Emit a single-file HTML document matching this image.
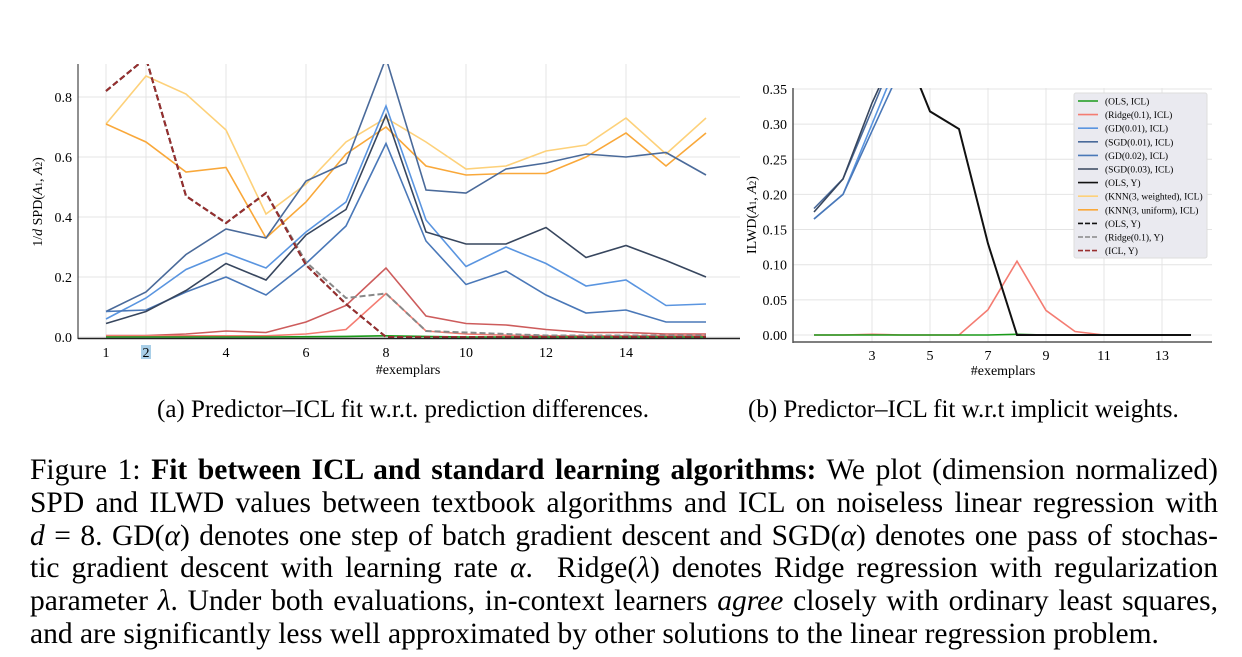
<!DOCTYPE html>
<html><head><meta charset="utf-8">
<style>
body{margin:0;background:#fff;width:1242px;height:657px;overflow:hidden;font-family:"Liberation Serif",serif;}
#cap{position:absolute;left:30px;top:454px;width:1188px;font-size:29.5px;line-height:32.8px;color:#000;}
#cap div{text-align:justify;text-align-last:justify;white-space:nowrap;}
#cap div.last{text-align-last:left;}
.sub{position:absolute;font-size:25px;top:396px;white-space:nowrap;}
</style></head><body>
<svg id="chart" width="1242" height="440" style="position:absolute;left:0;top:0" font-family="Liberation Serif, serif">
<defs>
<clipPath id="cl"><rect x="78" y="64" width="662" height="276"/></clipPath>
<clipPath id="cr"><rect x="793" y="88" width="420" height="256"/></clipPath>
</defs>
<g id="left"></g>
<g id="right"></g>
</svg>
<div class="sub" style="left:157px">(a) Predictor–ICL fit w.r.t. prediction differences.</div>
<div class="sub" style="left:748px">(b) Predictor–ICL fit w.r.t implicit weights.</div>
<div id="cap">
<div>Figure 1: <b>Fit between ICL and standard learning algorithms:</b> We plot (dimension normalized)</div>
<div>SPD and ILWD values between textbook algorithms and ICL on noiseless linear regression with</div>
<div><i>d</i> = 8. GD(<i>α</i>) denotes one step of batch gradient descent and SGD(<i>α</i>) denotes one pass of stochas-</div>
<div>tic gradient descent with learning rate <i>α</i>. &nbsp;Ridge(<i>λ</i>) denotes Ridge regression with regularization</div>
<div>parameter <i>λ</i>. Under both evaluations, in-context learners <i>agree</i> closely with ordinary least squares,</div>
<div class="last">and are significantly less well approximated by other solutions to the linear regression problem.</div>
</div>
<script>
const NS="http://www.w3.org/2000/svg";
// left chart data (x = 1..16)
const leftX=[1,2,3,4,5,6,7,8,9,10,11,12,13,14,15,16];
const leftXTicks=[1,2,4,6,8,10,12,14];
const leftYTicks=[0.0,0.2,0.4,0.6,0.8];
const lKnnW=[.71,.87,.81,.69,.41,.51,.65,.73,.65,.56,.57,.62,.64,.73,.61,.73];
const lKnnU=[.71,.65,.55,.565,.33,.45,.61,.70,.57,.54,.545,.545,.60,.68,.57,.68];
const lSgd001=[.085,.15,.275,.36,.33,.52,.58,.93,.49,.48,.56,.58,.61,.60,.615,.54];
const lGd001=[.06,.13,.225,.28,.23,.35,.45,.77,.39,.235,.30,.245,.17,.19,.105,.11];
const lGd002=[.085,.09,.15,.20,.14,.245,.37,.645,.32,.175,.22,.14,.08,.09,.05,.05];
const lSgd003=[.045,.085,.155,.245,.19,.34,.425,.74,.35,.31,.31,.365,.265,.305,.255,.20];
const lRed=[.005,.005,.01,.02,.015,.05,.105,.23,.07,.045,.04,.025,.015,.015,.01,.01];
const lRidge=[.004,.004,.004,.004,.004,.01,.025,.145,.02,.01,.006,.004,.004,.004,.004,.004];
const lOls=[0,0,0,0,0,.001,.002,.004,.002,0,0,0,0,0,0,0];
const lOlsY=[.82,.93,.47,.38,.48,.24,.11,0,0,0,0,0,0,0,0,0];
const lRidgeY=[.82,.93,.47,.38,.48,.25,.13,.145,.02,.015,.01,.005,.005,.005,.005,.005];
const lIclY=[.82,.93,.47,.38,.48,.24,.11,0,0,0,0,0,0,0,0,0];
// right chart data (x = 1..14)
const rightX=[1,2,3,4,5,6,7,8,9,10,11,12,13,14];
const rightXTicks=[3,5,7,9,11,13];
const rightYTicks=[0,0.05,0.10,0.15,0.20,0.25,0.30,0.35];
const rGd001=[.165,.20,.30,.40,.5,.6,.7,.8,.9,1,1,1,1,1];
const rSgd001=[.18,.222,.32,.42,.5,.6,.7,.8,.9,1,1,1,1,1];
const rGd002=[.165,.20,.29,.38,.5,.6,.7,.8,.9,1,1,1,1,1];
const rSgd003=[.175,.222,.33,.42,.5,.6,.7,.8,.9,1,1,1,1,1];
const rOlsY=[1.0,.8,.6,.42,.318,.293,.13,0,0,0,0,0,0,0];
const rRidge=[0,0,.001,0,0,0,.036,.105,.035,.005,0,0,0,0];
const rOls=[0,0,0,0,0,0,0,.001,0,0,0,0,0,0];

function el(tag,attrs,parent){const e=document.createElementNS(NS,tag);for(const k in attrs)e.setAttribute(k,attrs[k]);parent.appendChild(e);return e;}
const lx=v=>106+(v-1)*40, ly=v=>337-v*300;
const rx=v=>814+(v-1)*29, ry=v=>335-v*703;

function drawAxes(g,xs,ys,xf,yf,x0,x1,y0,y1){
  for(const t of ys){const l=el('line',{x1:x0,x2:x1,y1:yf(t),y2:yf(t),stroke:'#e4e4e4','stroke-width':1},g);
    }
  for(const t of xs){const l=el('line',{x1:xf(t),x2:xf(t),y1:y0,y2:y1,stroke:'#e4e4e4','stroke-width':1},g);
    }
}
function series(g,xs,vals,xf,yf,color,dash,w,clip,name){
  const d=vals.map((v,i)=>(i?'L':'M')+xf(xs[i]).toFixed(1)+','+yf(v).toFixed(1)).join('');
  const p=el('path',{d:d,fill:'none',stroke:color,'stroke-width':w||1.6,'clip-path':'url(#'+clip+')'},g);
  if(dash)p.setAttribute('stroke-dasharray',dash);
  
  
}
const L=document.getElementById('left');
drawAxes(L,leftXTicks,leftYTicks,lx,ly,78,740,64,338);
[[lKnnW,'#fdd17a',null,'series-knn-weighted'],[lKnnU,'#f9a83a',null,'series-knn-uniform'],
 [lSgd001,'#4a6a9a',null,'series-sgd-0.01'],[lGd001,'#5a95e0',null,'series-gd-0.01'],
 [lGd002,'#4a78b8',null,'series-gd-0.02'],[lSgd003,'#37465e',null,'series-sgd-0.03'],
 [lRed,'#cd5c5c',null,'series-red'],[lRidge,'#f47c72',null,'series-ridge-icl'],
 [lOls,'#1a9a1a',null,'series-ols-icl'],[lRidgeY,'#888',"6,3",'series-ridge-y'],
 [lOlsY,'#111',"6,3",'series-ols-y'],[lIclY,'#992f2f',"6,3",'series-icl-y']
].forEach(s=>series(L,leftX,s[0],lx,ly,s[1],s[2],s[2]?2:1.6,'cl',s[3]));
el('line',{x1:78,x2:78,y1:64,y2:339,stroke:'#222','stroke-width':1},L);
el('line',{x1:78,x2:740,y1:338.5,y2:338.5,stroke:'#222','stroke-width':1.5},L);
for(const t of leftYTicks){const tx=el('text',{x:72,y:ly(t)+5,'text-anchor':'end','font-size':14},L);tx.textContent=t.toFixed(1);
  }
for(const t of leftXTicks){if(t===2){el('rect',{x:lx(t)-5,y:345,width:10,height:14,fill:'#a9cfe8'},L);}
  const tx=el('text',{x:lx(t),y:357,'text-anchor':'middle','font-size':14},L);tx.textContent=t;
  }
let t1=el('text',{x:408,y:374,'text-anchor':'middle','font-size':14},L);t1.textContent='#exemplars';

let t2=el('text',{x:0,y:0,'text-anchor':'middle','font-size':14,transform:'translate(42,202) rotate(-90)'},L);
t2.innerHTML='1/<tspan font-style="italic">d</tspan> SPD(<tspan font-style="italic">A</tspan><tspan font-size="9">1</tspan>, <tspan font-style="italic">A</tspan><tspan font-size="9">2</tspan>)';


const R=document.getElementById('right');
drawAxes(R,rightXTicks,rightYTicks,rx,ry,793,1212,88,342);
[[rGd001,'#5a95e0','series-gd-0.01'],[rSgd001,'#4a6a9a','series-sgd-0.01'],[rGd002,'#4a78b8','series-gd-0.02'],
 [rSgd003,'#37465e','series-sgd-0.03'],[rRidge,'#f47c72','series-ridge-icl'],[rOls,'#1a9a1a','series-ols-icl'],[rOlsY,'#111','series-ols-y']
].forEach(s=>series(R,rightX,s[0],rx,ry,s[1],null,s[2]==='series-ols-y'?2:1.6,'cr',s[2]));
el('line',{x1:793,x2:793,y1:88,y2:343,stroke:'#555','stroke-width':1.5},R);
el('line',{x1:793,x2:1212,y1:342,y2:342,stroke:'#555','stroke-width':1.5},R);
for(const t of rightYTicks){const tx=el('text',{x:787,y:ry(t)+5,'text-anchor':'end','font-size':14},R);tx.textContent=t.toFixed(2);
  }
for(const t of rightXTicks){const tx=el('text',{x:rx(t),y:360,'text-anchor':'middle','font-size':14},R);tx.textContent=t;
  }
let t3=el('text',{x:1003,y:375,'text-anchor':'middle','font-size':14},R);t3.textContent='#exemplars';

let t4=el('text',{x:0,y:0,'text-anchor':'middle','font-size':14,transform:'translate(756,215) rotate(-90)'},R);
t4.innerHTML='ILWD(<tspan font-style="italic">A</tspan><tspan font-size="9">1</tspan>, <tspan font-style="italic">A</tspan><tspan font-size="9">2</tspan>)';


// legend
const legLabels=['(OLS, ICL)','(Ridge(0.1), ICL)','(GD(0.01), ICL)','(SGD(0.01), ICL)','(GD(0.02), ICL)','(SGD(0.03), ICL)','(OLS, Y)','(KNN(3, weighted), ICL)','(KNN(3, uniform), ICL)','(OLS, Y)','(Ridge(0.1), Y)','(ICL, Y)'];
const legColors=['#1a9a1a','#f47c72','#5a95e0','#4a6a9a','#4a78b8','#37465e','#111','#fdd17a','#f9a83a','#111','#888','#992f2f'];
const legDash=[0,0,0,0,0,0,0,0,0,1,1,1];
const LG=el('g',{},R);

el('rect',{x:1074,y:93,width:133,height:165,fill:'#eaeaf0',stroke:'#ddd',rx:2},LG);
legLabels.forEach((lab,i)=>{
  const y=101+i*13.6;
  const ln=el('line',{x1:1078,x2:1098,y1:y,y2:y,stroke:legColors[i],'stroke-width':1.6},LG);
  if(legDash[i])ln.setAttribute('stroke-dasharray','5,2');
  const tx=el('text',{x:1105,y:y+3.5,'font-size':9.5},LG);tx.textContent=lab;
  
});
</script>
</body></html>
